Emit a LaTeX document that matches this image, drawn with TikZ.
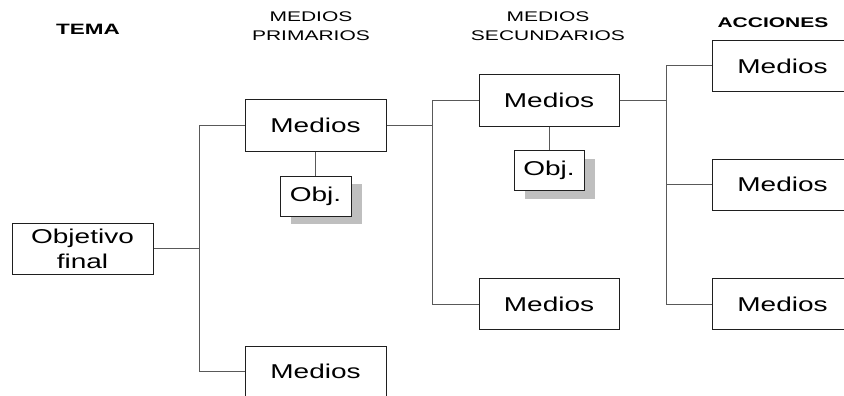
\documentclass[tikz,border=0pt]{standalone}
\usepackage{fontspec}
\setmainfont{Liberation Sans}
\usetikzlibrary{shadows}

% wide lettering used throughout the chart
\newcommand{\widetxt}[2][1.4]{\scalebox{#1}[1]{#2}}

\tikzset{
  box/.style={draw=black!88, line width=1pt, fill=white, inner sep=0pt,
    minimum width=141pt, minimum height=51pt, align=center,
    font=\fontsize{20}{25}\selectfont},
  objbox/.style={box, minimum width=71pt, minimum height=40pt,
    general shadow={fill=black!25, draw=none, shadow xshift=11pt, shadow yshift=-8pt}},
  head/.style={inner sep=0pt, align=center, font=\fontsize{14}{19}\selectfont},
  link/.style={draw=black!65, line width=1pt},
}

\begin{document}
\begin{tikzpicture}[x=1pt,y=-1pt]
\useasboundingbox (0,0) rectangle (844,396);

% column headings
\node[head, font=\fontsize{15}{19}\selectfont] (hTema) at (88,29) {\textbf{\widetxt[1.5]{TEMA}}};
\node[head] (hPrim) at (311,26) {\widetxt[1.5]{MEDIOS}\\\widetxt[1.5]{PRIMARIOS}};
\node[head] (hSec)  at (548,26) {\widetxt[1.5]{MEDIOS}\\\widetxt[1.5]{SECUNDARIOS}};
\node[head] (hAcc)  at (773,23) {\textbf{\widetxt[1.5]{ACCIONES}}};

% branch points of the tree
\coordinate (b1) at (199,0);
\coordinate (b2) at (432,0);
\coordinate (b3) at (666,0);

% boxes
\node[box] (ofin) at (82.5,248.5) {\widetxt{Objetivo}\\\widetxt{final}};
\node[box] (p1) at (315.5,125.5) {\widetxt{Medios}};
\node[box] (p2) at (315.5,371.5) {\widetxt{Medios}};
\node[objbox] (pobj) at (315.5,196) {\widetxt{Obj.}};
\node[box, minimum width=140pt] (s1) at (549,100.5) {\widetxt{Medios}};
\node[box, minimum width=140pt] (s2) at (549,304) {\widetxt{Medios}};
\node[objbox, minimum width=70pt] (sobj) at (549,170.5) {\widetxt{Obj.}};
\node[box] (a1) at (782.5,66) {\widetxt{Medios}};
\node[box] (a2) at (782.5,184.5) {\widetxt{Medios}};
\node[box] (a3) at (782.5,304) {\widetxt{Medios}};

% connectors
\draw[link] (ofin.east) -- (ofin.east -| b1);
\draw[link] (p1.west) -- (p1.west -| b1) |- (p2.west);
\draw[link] (p1.south) -- (pobj.north);

\draw[link] (p1.east) -- (p1.east -| b2);
\draw[link] (s1.west) -- (s1.west -| b2) |- (s2.west);
\draw[link] (s1.south) -- (sobj.north);

\draw[link] (s1.east) -- (s1.east -| b3);
\draw[link] (a1.west) -- (a1.west -| b3) |- (a3.west);
\draw[link] (a2.west) -- (a2.west -| b3);
\end{tikzpicture}
\end{document}
